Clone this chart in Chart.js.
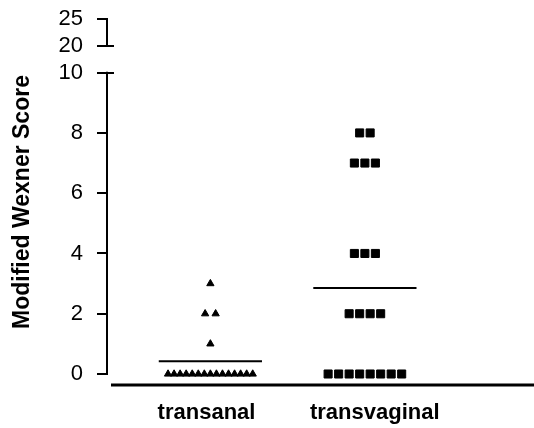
<!DOCTYPE html>
<html><head><meta charset="utf-8">
<script src="https://cdn.jsdelivr.net/npm/chart.js@4"></script>
<style>html,body{margin:0;padding:0;background:#fff}#wrap{position:relative;width:534px;height:428px}</style>
</head><body><div id="wrap"><canvas id="c" width="534" height="428"></canvas></div>
<script>
// ---- data ----
const categories = ['transanal', 'transvaginal'];
const transanalScores = [3, 2, 2, 1, 0, 0, 0, 0, 0, 0, 0, 0, 0, 0, 0, 0, 0, 0, 0];
const transvaginalScores = [8, 8, 7, 7, 7, 4, 4, 4, 2, 2, 2, 2, 0, 0, 0, 0, 0, 0, 0, 0];
const yTickLabels = [0, 2, 4, 6, 8, 10, 20, 25];
const yAxisTitle = 'Modified Wexner Score';

// ---- layout helpers ----
const FONT = 'Arial, "Liberation Sans", sans-serif';
const BREAK_LOW = 10, BREAK_HIGH = 20, UPPER_START = 10.88, UPPER_SCALE = 0.18;
function axisValue(v) { return v <= BREAK_LOW ? v : UPPER_START + (v - BREAK_HIGH) * UPPER_SCALE; }
const STEP = 0.068, MAXW = 0.548, HALF_LINE = 0.334;
const labelNudge = [-0.025, 0.064];

function swarm(scores, col) {
  const groups = {};
  scores.forEach(v => { (groups[v] = groups[v] || []).push(v); });
  const pts = [];
  Object.keys(groups).forEach(k => {
    const n = groups[k].length;
    const sp = n > 1 ? Math.min(STEP, MAXW / (n - 1)) : 0;
    for (let i = 0; i < n; i++) pts.push({ x: col + (i - (n - 1) / 2) * sp, y: axisValue(+k) });
  });
  return pts;
}
function mean(a) { return a.reduce((s, v) => s + v, 0) / a.length; }
function meanLine(scores, col) {
  const m = mean(scores);
  return [{ x: col - HALF_LINE, y: m }, { x: col + HALF_LINE, y: m }];
}

const axisPlugin = {
  id: 'axisPlugin',
  afterDraw(chart) {
    const { ctx, chartArea, scales: { y } } = chart;
    const x0 = chartArea.left;
    ctx.save();
    ctx.strokeStyle = '#000';
    ctx.lineWidth = 2;
    ctx.beginPath();
    ctx.moveTo(x0, y.getPixelForValue(0) + 1);
    ctx.lineTo(x0, y.getPixelForValue(axisValue(BREAK_LOW)) - 1);
    ctx.moveTo(x0, y.getPixelForValue(axisValue(BREAK_HIGH)) + 1);
    ctx.lineTo(x0, y.getPixelForValue(axisValue(25)) - 1);
    [BREAK_LOW, BREAK_HIGH].forEach(v => {
      const py = Math.round(y.getPixelForValue(axisValue(v)));
      ctx.moveTo(x0, py);
      ctx.lineTo(x0 + 7, py);
    });
    ctx.stroke();
    ctx.lineWidth = 3;
    ctx.beginPath();
    ctx.moveTo(x0 + 4, chartArea.bottom);
    ctx.lineTo(chart.width, chartArea.bottom);
    ctx.stroke();
    ctx.restore();
  }
};

new Chart(document.getElementById('c'), {
  type: 'scatter',
  data: {
    datasets: [
      { label: categories[0], data: swarm(transanalScores, 1), pointStyle: 'triangle', pointRadius: 4.2,
        backgroundColor: '#000', borderColor: '#000', borderWidth: 1 },
      { label: categories[1], data: swarm(transvaginalScores, 2), pointStyle: 'rect', pointRadius: 5.7,
        backgroundColor: '#000', borderColor: '#000', borderWidth: 1 },
      { type: 'line', label: 'mean ' + categories[0], data: meanLine(transanalScores, 1), borderColor: '#000',
        borderWidth: 2, pointRadius: 0, fill: false },
      { type: 'line', label: 'mean ' + categories[1], data: meanLine(transvaginalScores, 2), borderColor: '#000',
        borderWidth: 2, pointRadius: 0, fill: false }
    ]
  },
  options: {
    responsive: false, animation: false, devicePixelRatio: 1,
    layout: { padding: { top: 19, right: 0, bottom: 0, left: 0 } },
    plugins: { legend: { display: false }, tooltip: { enabled: false } },
    scales: {
      x: {
        type: 'linear', min: 0.331, max: 3.051,
        afterBuildTicks: s => { s.ticks = categories.map((c, i) => ({ value: i + 1 + labelNudge[i] })); },
        afterFit: s => { s.height = 43; s.paddingLeft = 0; s.paddingRight = 0; },
        ticks: { callback: (v, i) => categories[i], color: '#000', font: { family: FONT, size: 22, weight: 'bold' }, padding: 7, autoSkip: false, maxRotation: 0 },
        grid: { display: false }, border: { display: false }
      },
      y: {
        type: 'linear', min: -0.365, max: axisValue(25),
        afterBuildTicks: s => { s.ticks = yTickLabels.map(v => ({ value: axisValue(v) })); },
        afterFit: s => { s.width = 107; s.paddingTop = 0; s.paddingBottom = 0; },
        ticks: { callback: (v, i) => String(yTickLabels[i]), color: '#000', font: { family: FONT, size: 22 }, padding: 14, autoSkip: false },
        grid: { display: true, drawOnChartArea: false, drawTicks: true, tickLength: 10, color: '#000', lineWidth: 2 },
        border: { display: false },
        title: { display: true, text: yAxisTitle, color: '#000', font: { family: FONT, size: 23, weight: 'bold' }, padding: { top: 9, bottom: 0 } }
      }
    }
  },
  plugins: [axisPlugin]
});
</script></body></html>
